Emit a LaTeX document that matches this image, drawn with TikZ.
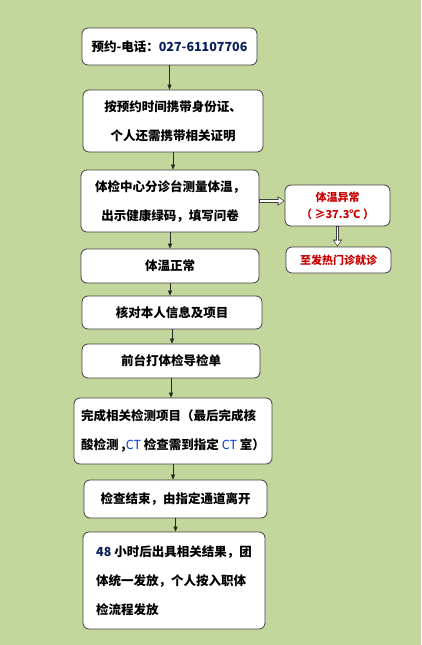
\documentclass[tikz,border=0pt]{standalone}
\usepackage{fontspec}
\newfontfamily\cjk{Noto Sans CJK SC}
\usetikzlibrary{arrows.meta}

\definecolor{bggreen}{RGB}{195,214,155}
\definecolor{boxgray}{RGB}{64,64,64}
\definecolor{linegray}{RGB}{40,40,40}
\definecolor{numblue}{RGB}{10,30,90}
\definecolor{ctblue}{RGB}{0,60,200}
\definecolor{warnred}{RGB}{200,0,0}

\tikzset{
  stepbox/.style={draw=boxgray, fill=white, rounded corners=6pt, line width=0.8pt, inner sep=0pt, align=center},
  warnbox/.style={stepbox, text=warnred, font=\cjk\bfseries\fontsize{11}{17}\selectfont},
  flow/.style={draw=linegray, line width=0.6pt, -{Triangle[length=5pt,width=4pt]}},
  hollow/.style={draw=boxgray, line width=3.2pt, -{Triangle[length=7pt,width=9pt]},
    postaction={draw=white, line width=1.6pt, -{Triangle[length=4.6pt,width=6pt]}, shorten >=1.3pt, shorten <=0.8pt}}
}

\begin{document}
\begin{tikzpicture}[x=1pt,y=-1pt,every node/.style={font=\cjk\bfseries\fontsize{12.5}{29}\selectfont}]

\fill[bggreen] (0,0) rectangle (421,645);
\useasboundingbox (0,0) rectangle (421,645);

% main column
\node[stepbox, minimum width=175pt, minimum height=37pt] (call) at (169.5,46.5) {预约-电话：{\color{numblue}027-61107706}};
\node[stepbox, minimum width=180pt, minimum height=62pt] (bring) at (173,121) {按预约时间携带身份证、\\个人还需携带相关证明};
\node[stepbox, minimum width=178pt, minimum height=62pt] (temp) at (170,201) {体检中心分诊台测量体温，\\出示健康绿码，填写问卷};
\node[stepbox, minimum width=178pt, minimum height=34pt] (normal) at (170,266) {体温正常};
\node[stepbox, minimum width=180pt, minimum height=33pt] (verify) at (172,312.5) {核对本人信息及项目};
\node[stepbox, minimum width=178pt, minimum height=34pt] (sheet) at (171,361) {前台打体检导检单};
\node[stepbox, minimum width=198pt, minimum height=66pt, align=left] (exam) at (173,431) {完成相关检测项目（最后完成核\\酸检测 ,{\mdseries\color{ctblue}CT} 检查需到指定 {\mdseries\color{ctblue}CT} 室）};
\node[stepbox, minimum width=183pt, minimum height=38pt] (leave) at (175.5,499) {检查结束，由指定通道离开};
\node[stepbox, minimum width=182pt, minimum height=97pt, align=left] (result) at (174,580.5) {{\color{numblue}48} 小时后出具相关结果，团\\体统一发放，个人按入职体\\检流程发放};

% side branch
\node[warnbox, minimum width=105pt, minimum height=41pt] (abnormal) at (337.5,205.5) {体温异常\\（ ≥37.3℃ ）};
\node[warnbox, minimum width=105pt, minimum height=26pt] (fever) at (338.5,260) {至发热门诊就诊};

\draw[flow] (call.south) -- (call.south |- bring.north);
\draw[flow] (bring.south) -- (bring.south |- temp.north);
\draw[flow] (temp.south) -- (temp.south |- normal.north);
\draw[flow] (normal.south) -- (normal.south |- verify.north);
\draw[flow] (verify.south) -- (verify.south |- sheet.north);
\draw[flow] (sheet.south) -- (sheet.south |- exam.north);
\draw[flow] (exam.south) -- (exam.south |- leave.north);
\draw[flow] (leave.south) -- (leave.south |- result.north);

\draw[hollow] (temp.east) -- (temp.east -| abnormal.west);
\draw[hollow] (abnormal.south) -- (abnormal.south |- fever.north);
\end{tikzpicture}
\end{document}
